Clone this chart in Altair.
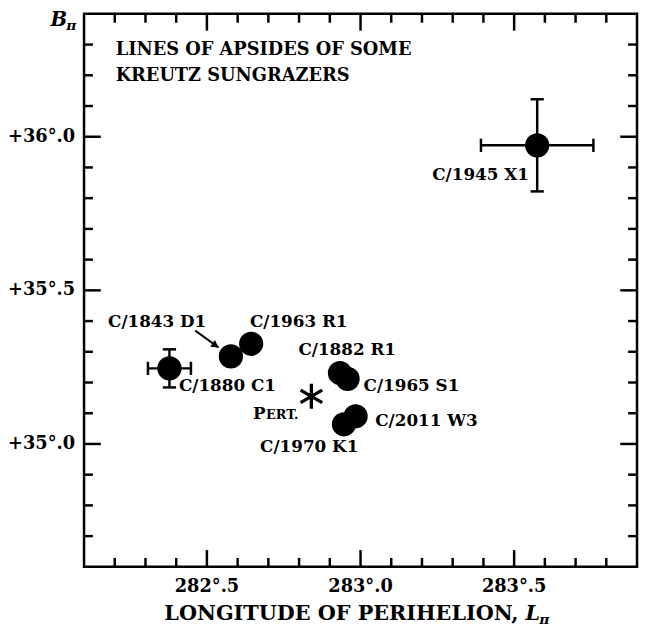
import altair as alt
import pandas as pd

# ---- data ----
names = ["C/1880 C1", "C/1843 D1", "C/1963 R1", "C/1882 R1", "C/1965 S1",
         "C/2011 W3", "C/1970 K1", "C/1945 X1"]
lon = [282.378, 282.578, 282.644, 282.933, 282.958, 282.984, 282.946, 283.575]
lat = [35.246, 35.285, 35.326, 35.231, 35.212, 35.090, 35.064, 35.972]

err_names = ["C/1880 C1", "C/1945 X1"]
err_lon = [282.378, 283.575]
err_lat = [35.246, 35.972]
err_dlon = [0.070, 0.183]
err_dlat = [0.062, 0.150]

label_text = ["C/1880 C1", "C/1843 D1", "C/1963 R1", "C/1882 R1", "C/1965 S1",
              "C/2011 W3", "C/1970 K1", "C/1945 X1"]
label_lon = [282.409, 282.338, 282.640, 282.798, 283.010, 283.048, 282.833, 283.548]
label_lat = [35.188, 35.397, 35.397, 35.307, 35.188, 35.076, 34.989, 35.876]
label_align = ["left", "center", "left", "left", "left", "left", "center", "right"]

pert_lon = [282.840]
pert_lat = [35.155]

arrow_lon = [282.462, 282.538]
arrow_lat = [35.369, 35.314]

x_minor = [282.2, 282.3, 282.4, 282.6, 282.7, 282.8, 282.9, 283.1, 283.2,
           283.3, 283.4, 283.6, 283.7, 283.8]
x_major = [282.5, 283.0, 283.5]
x_major_text = ["282°.5", "283°.0", "283°.5"]
y_minor = [34.7, 34.8, 34.9, 35.1, 35.2, 35.3, 35.4, 35.6, 35.7, 35.8, 35.9,
           36.1, 36.2, 36.3]
y_major = [35.0, 35.5, 36.0]
y_major_text = ["+35°.0", "+35°.5", "+36°.0"]

title_lines = ["LINES OF APSIDES OF SOME", "KREUTZ SUNGRAZERS"]

# ---- layout ----
W, H = 560, 560
FONT = "DejaVu Serif"
xs = alt.Scale(domain=[282.1, 283.9], nice=False, zero=False)
ys = alt.Scale(domain=[34.6, 36.4], nice=False, zero=False)


def X(f):
    return alt.X(f, type="quantitative", scale=xs, axis=None)


def Y(f):
    return alt.Y(f, type="quantitative", scale=ys, axis=None)


pts = pd.DataFrame({"name": names, "lon": lon, "lat": lat})
err = pd.DataFrame({"name": err_names, "lon": err_lon, "lat": err_lat,
                    "dlon": err_dlon, "dlat": err_dlat})
err["lon_lo"] = err["lon"] - err["dlon"]
err["lon_hi"] = err["lon"] + err["dlon"]
err["lat_lo"] = err["lat"] - err["dlat"]
err["lat_hi"] = err["lat"] + err["dlat"]
labs = pd.DataFrame({"t": label_text, "lon": label_lon, "lat": label_lat, "a": label_align})
pert = pd.DataFrame({"lon": pert_lon, "lat": pert_lat})
arrow = pd.DataFrame({"lon": [arrow_lon[0]], "lat": [arrow_lat[0]],
                      "lon2": [arrow_lon[1]], "lat2": [arrow_lat[1]]})
head = pd.DataFrame({"lon": [arrow_lon[1] - 0.010], "lat": [arrow_lat[1] + 0.007]})

xmin = pd.DataFrame({"v": x_minor})
xmaj = pd.DataFrame({"v": x_major, "t": x_major_text})
ymin = pd.DataFrame({"v": y_minor})
ymaj = pd.DataFrame({"v": y_major, "t": y_major_text})

TW = 2.5
MIN_L, MAJ_L = 9, 17

layers = []
# ticks (inward, all four sides)
for df, L in [(xmin, MIN_L), (xmaj, MAJ_L)]:
    layers.append(alt.Chart(df).mark_rule(color="black", strokeWidth=TW).encode(
        x=X("v"), y=alt.value(H), y2=alt.value(H - L)))
    layers.append(alt.Chart(df).mark_rule(color="black", strokeWidth=TW).encode(
        x=X("v"), y=alt.value(0), y2=alt.value(L)))
for df, L in [(ymin, MIN_L), (ymaj, MAJ_L)]:
    layers.append(alt.Chart(df).mark_rule(color="black", strokeWidth=TW).encode(
        y=Y("v"), x=alt.value(0), x2=alt.value(L)))
    layers.append(alt.Chart(df).mark_rule(color="black", strokeWidth=TW).encode(
        y=Y("v"), x=alt.value(W), x2=alt.value(W - L)))

# tick labels
layers.append(alt.Chart(xmaj).mark_text(font=FONT, fontWeight="bold", fontSize=18,
                                        baseline="middle", align="center").encode(
    x=X("v"), y=alt.value(H + 20), text="t:N"))
layers.append(alt.Chart(ymaj).mark_text(font=FONT, fontWeight="bold", fontSize=18,
                                        baseline="middle", align="right").encode(
    y=Y("v"), x=alt.value(-9), text="t:N"))

# error bars
layers.append(alt.Chart(err).mark_rule(color="black", strokeWidth=TW).encode(
    x=X("lon_lo"), x2="lon_hi", y=Y("lat")))
layers.append(alt.Chart(err).mark_rule(color="black", strokeWidth=TW).encode(
    y=Y("lat_lo"), y2="lat_hi", x=X("lon")))
vcap = "M0,-1L0,1"
hcap = "M-1,0L1,0"
for f in ["lon_lo", "lon_hi"]:
    layers.append(alt.Chart(err).mark_point(shape=vcap, filled=False, color="black",
                                            strokeWidth=TW, size=180, opacity=1).encode(
        x=X(f), y=Y("lat")))
for f in ["lat_lo", "lat_hi"]:
    layers.append(alt.Chart(err).mark_point(shape=hcap, filled=False, color="black",
                                            strokeWidth=TW, size=180, opacity=1).encode(
        x=X("lon"), y=Y(f)))

# points
layers.append(alt.Chart(pts).mark_circle(color="black", size=600, opacity=1).encode(
    x=X("lon"), y=Y("lat")))

# perturbation asterisk
ast = "M0,-1L0,1M-0.866,-0.5L0.866,0.5M-0.866,0.5L0.866,-0.5"
layers.append(alt.Chart(pert).mark_point(shape=ast, filled=False, color="black",
                                         strokeWidth=3.4, size=640, opacity=1).encode(
    x=X("lon"), y=Y("lat")))

# arrow
layers.append(alt.Chart(arrow).mark_rule(color="black", strokeWidth=2).encode(
    x=X("lon"), y=Y("lat"), x2="lon2", y2="lat2"))
layers.append(alt.Chart(head).mark_point(shape="triangle-up", filled=True, color="black",
                                         size=70, angle=125, opacity=1).encode(
    x=X("lon"), y=Y("lat")))

# point labels
for a in ["left", "center", "right"]:
    sub = labs[labs["a"] == a]
    layers.append(alt.Chart(sub).mark_text(font=FONT, fontWeight="bold", fontSize=17,
                                           baseline="middle", align=a).encode(
        x=X("lon"), y=Y("lat"), text="t:N"))

# "PERT." in small caps, placed below-left of the asterisk
layers.append(alt.Chart(pert).mark_text(font=FONT, fontWeight="bold", fontSize=17,
                                        baseline="alphabetic", align="left",
                                        dx=-59, dy=23).encode(
    x=X("lon"), y=Y("lat"), text=alt.value("P")))
layers.append(alt.Chart(pert).mark_text(font=FONT, fontWeight="bold", fontSize=13,
                                        baseline="alphabetic", align="left",
                                        dx=-46, dy=23).encode(
    x=X("lon"), y=Y("lat"), text=alt.value("ERT.")))

# title
one = pd.DataFrame({"k": [0]})
for i, t in enumerate(title_lines):
    layers.append(alt.Chart(one).mark_text(font=FONT, fontWeight="bold", fontSize=18,
                                           baseline="middle", align="left").encode(
        x=alt.value(32), y=alt.value(37 + 26 * i), text=alt.value(t)))

# axis titles
layers.append(alt.Chart(one).mark_text(font=FONT, fontWeight="bold", fontSize=21,
                                       baseline="alphabetic", align="right").encode(
    x=alt.value(W / 2 + 160), y=alt.value(H + 54), text=alt.value("LONGITUDE OF PERIHELION,")))
layers.append(alt.Chart(one).mark_text(font=FONT, fontWeight="bold", fontStyle="italic",
                                       fontSize=21, baseline="alphabetic", align="left").encode(
    x=alt.value(W / 2 + 167), y=alt.value(H + 54), text=alt.value("L")))
layers.append(alt.Chart(one).mark_text(font=FONT, fontWeight="bold", fontStyle="italic",
                                       fontSize=14, baseline="alphabetic", align="left").encode(
    x=alt.value(W / 2 + 181), y=alt.value(H + 58), text=alt.value("π")))
layers.append(alt.Chart(one).mark_text(font=FONT, fontWeight="bold", fontStyle="italic",
                                       fontSize=20, baseline="alphabetic", align="right").encode(
    x=alt.value(-17), y=alt.value(12), text=alt.value("B")))
layers.append(alt.Chart(one).mark_text(font=FONT, fontWeight="bold", fontStyle="italic",
                                       fontSize=14, baseline="alphabetic", align="left").encode(
    x=alt.value(-18), y=alt.value(16), text=alt.value("π")))

chart = alt.layer(*layers).properties(
    width=W, height=H,
    autosize=alt.AutoSizeParams(type="none"),
    padding={"left": 77, "top": 2, "right": 2, "bottom": 57},
).configure_view(stroke="black", strokeWidth=2.5)

chart.save("out.html", embed_options={"renderer": "svg", "actions": False})
